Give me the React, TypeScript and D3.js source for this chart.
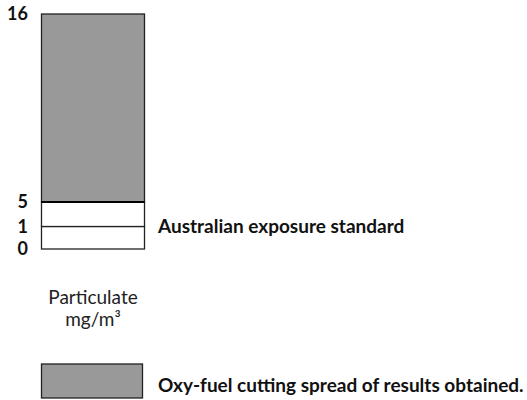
import React from 'react';
import * as d3 from 'd3';

// tick values and where they sit (the reference axis is not linear)
const ticks = [0, 1, 5, 16];
const tickPixels = [249, 226.5, 202, 14];

// bands of the column
const bands = [
  { from: 0, to: 1, fill: '#ffffff' },
  { from: 1, to: 5, fill: '#ffffff' },
  { from: 5, to: 16, fill: '#999999' },
];

const standardValue = 1;
const standardLabel = 'Australian exposure standard';
const axisTitle = ['Particulate', 'mg/m³'];
const legendLabel = 'Oxy-fuel cutting spread of results obtained.';

const W = 527;
const H = 400;
const FONT = 'Lato, "Open Sans", sans-serif';

const App: React.FC = () => {
  const y = d3.scaleLinear().domain(ticks).range(tickPixels);
  const x0 = 41.5;
  const x1 = 144.5;
  const cx = (x0 + x1) / 2;

  return (
    <svg width={W} height={H} style={{ position: 'absolute', left: 0, top: 0, background: '#fff' }}>
      {bands.map((b, i) => (
        <rect
          key={i}
          x={x0}
          y={y(b.to)}
          width={x1 - x0}
          height={y(b.from) - y(b.to)}
          fill={b.fill}
          stroke="#222"
          strokeWidth={1.3}
        />
      ))}
      <line x1={x0} x2={x1} y1={y(5)} y2={y(5)} stroke="#000" strokeWidth={2.2} />
      {ticks.map(t => (
        <text
          key={t}
          x={28}
          y={y(t)}
          dy="0.36em"
          textAnchor="end"
          fontFamily={FONT}
          fontWeight="bold"
          fontSize={18}
          fill="#111"
        >
          {t}
        </text>
      ))}
      <text
        x={158}
        y={y(standardValue)}
        dy="0.36em"
        fontFamily={FONT}
        fontWeight="bold"
        fontSize={19}
        fill="#111"
      >
        {standardLabel}
      </text>
      {axisTitle.map((s, i) => (
        <text
          key={s}
          x={cx}
          y={304 + i * 22}
          textAnchor="middle"
          fontFamily={FONT}
          fontSize={19}
          fill="#222"
        >
          {s}
        </text>
      ))}
      <rect x={41.5} y={364} width={101} height={34} fill="#999999" stroke="#222" strokeWidth={1.3} />
      <text x={158} y={392} fontFamily={FONT} fontWeight="bold" fontSize={19} fill="#111">
        {legendLabel}
      </text>
    </svg>
  );
};

export default App;
